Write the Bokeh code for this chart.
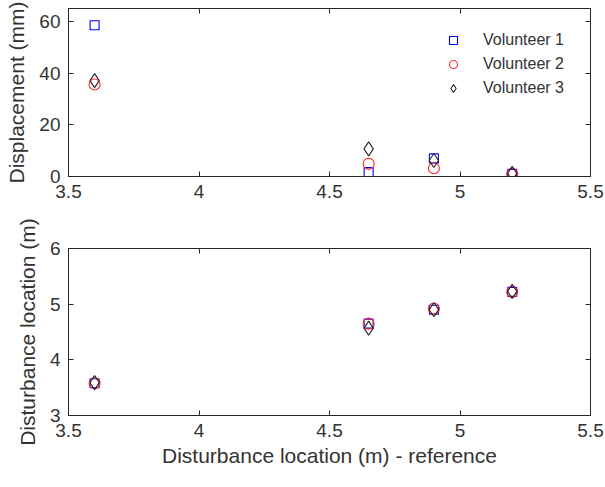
from bokeh.plotting import figure
from bokeh.layouts import column
from bokeh.models import LinearAxis, FixedTicker, Range1d, Legend, LegendItem, Label
from bokeh.embed import file_html
from bokeh.resources import INLINE

# Reference disturbance locations (m)
x_ref = [3.6, 4.65, 4.9, 5.2]

# Peak displacement (mm) per volunteer
disp_v1 = [58.5, 1.7, 7.0, 1.0]
disp_v2 = [35.6, 4.9, 3.2, 1.0]
disp_v3 = [37.1, 10.7, 6.2, 1.2]

# Estimated disturbance location (m) per volunteer
loc_v1 = [3.58, 4.65, 4.90, 5.22]
loc_v2 = [3.58, 4.65, 4.92, 5.22]
loc_v3 = [3.59, 4.57, 4.90, 5.23]

series_names = ["Volunteer 1", "Volunteer 2", "Volunteer 3"]
x_ticks = [3.5, 4, 4.5, 5, 5.5]
disp_ticks = [0, 20, 40, 60]
loc_ticks = [3, 4, 5, 6]

FONT = "Liberation Sans"
INK = "#333333"
AX = "#262626"

markers = [
    dict(marker="square", size=9, line_color="#0000ff"),
    dict(marker="circle", size=11, line_color="#ff2a2a"),
    dict(marker="diamond", size=14, line_color="#262626"),
]


def style_axis(ax, ticks, show_labels=True):
    ax.ticker = FixedTicker(ticks=ticks)
    ax.axis_line_color = AX
    ax.major_tick_line_color = AX
    ax.major_tick_in = 5
    ax.major_tick_out = 0
    ax.minor_tick_line_color = None
    ax.major_label_text_font = FONT
    ax.major_label_text_color = INK
    ax.major_label_text_font_size = "19px"
    ax.major_label_standoff = 8
    if not show_labels:
        # mirrored box ticks without numbers
        ax.major_label_overrides = {t: "" for t in ticks}
        ax.major_label_standoff = 0
    ax.axis_label_text_font = FONT
    ax.axis_label_text_font_size = "21px"
    ax.axis_label_text_font_style = "normal"
    ax.axis_label_text_color = INK


def make_panel(yrange, yticks, ylabel, xlabel, frame_h, borders):
    top, bottom = borders
    p = figure(
        width=605, height=top + frame_h + bottom,
        frame_width=522, frame_height=frame_h,
        x_range=Range1d(3.5, 5.5), y_range=Range1d(*yrange),
        min_border_left=68, min_border_right=15,
        min_border_top=top, min_border_bottom=bottom,
        output_backend="svg", toolbar_location=None,
    )
    p.grid.visible = False
    p.outline_line_color = AX
    p.outline_line_width = 1
    style_axis(p.xaxis[0], x_ticks)
    style_axis(p.yaxis[0], yticks)
    p.yaxis[0].axis_label = ylabel
    p.yaxis[0].axis_label_standoff = 8
    if xlabel:
        p.xaxis[0].axis_label = xlabel
        p.xaxis[0].axis_label_standoff = 4
    top_ax = LinearAxis()
    style_axis(top_ax, x_ticks, show_labels=False)
    p.add_layout(top_ax, "above")
    right_ax = LinearAxis()
    style_axis(right_ax, yticks, show_labels=False)
    p.add_layout(right_ax, "right")
    return p


# Top panel: displacement
p1 = make_panel((0, 65), disp_ticks, "Displacement (mm)", None, 168, (8, 40))
renderers = []
for ys, m in zip([disp_v1, disp_v2, disp_v3], markers):
    r = p1.scatter(x_ref, ys, fill_color=None, line_width=1.1, **m)
    renderers.append(r)

legend = Legend(
    items=[LegendItem(label=n, renderers=[r]) for n, r in zip(series_names, renderers)],
    location=(375, 78),
    border_line_alpha=0, background_fill_alpha=0,
    padding=0, margin=0, spacing=4,
    glyph_width=20, glyph_height=20, label_height=20,
    label_standoff=20,
    label_text_font=FONT, label_text_font_size="16px", label_text_color=INK,
)
p1.add_layout(legend)

# Bottom panel: estimated location
p2 = make_panel((3, 6), loc_ticks, "Disturbance location (m)",
                "Disturbance location (m) - reference", 167, (32, 72))
for ys, m in zip([loc_v1, loc_v2, loc_v3], markers):
    p2.scatter(x_ref, ys, fill_color=None, line_width=1.1, **m)

# Panel caption below the axis title
p2.add_layout(Label(x=242, y=-52, x_units="screen", y_units="screen",
                    text="(b)", text_align="center",
                    text_baseline="top", text_font=FONT,
                    text_font_size="15px", text_color=INK))

layout = column(p1, p2, spacing=0)
open("out.html", "w").write(file_html(layout, INLINE))
